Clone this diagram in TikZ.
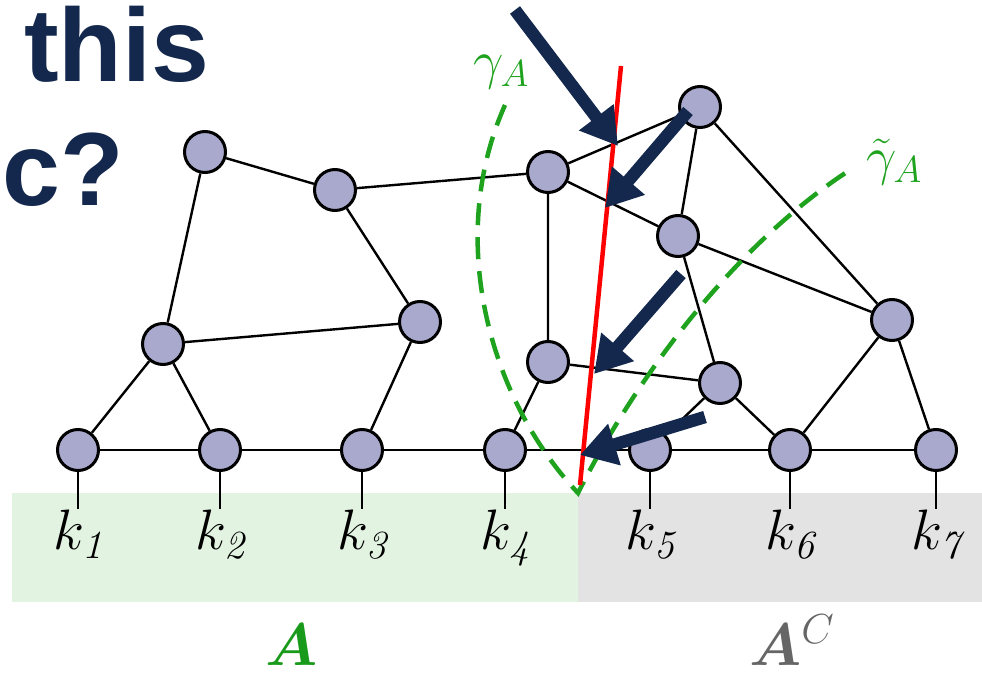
\RequirePackage{fix-cm}
\documentclass[tikz,border=0pt]{standalone}
\usepackage{fontspec}
\usepackage{bm}
\usepackage{tikz}
\usetikzlibrary{positioning,arrows.meta}
\newfontfamily\slidefont{Liberation Sans}
\definecolor{navy}{HTML}{13284C}
\definecolor{vtxfill}{HTML}{A9A9CE}
\definecolor{cutgreen}{HTML}{1FA31F}
\definecolor{labgreen}{HTML}{1A9A1A}
\definecolor{shadegreen}{HTML}{E2F3E2}
\definecolor{shadegray}{HTML}{E3E3E3}

\begin{document}
\begin{tikzpicture}[
      x=1pt, y=-1pt,
      vtx/.style={circle, draw, line width=3pt, fill=vtxfill, minimum size=41pt, inner sep=0pt},
      edge/.style={line width=2.4pt},
      klabel/.style={anchor=north, inner sep=1pt, font=\fontsize{57}{57}\selectfont},
      cutcurve/.style={cutgreen, line width=4.5pt, dash pattern=on 22pt off 12pt},
      pointer/.style={navy, line width=12.5pt, -{Triangle[length=36pt,width=41pt]}},
      cutlabel/.style={anchor=west, inner sep=0pt, text=cutgreen, font=\fontsize{54}{54}\selectfont},
    ]
      \useasboundingbox (0,0) rectangle (982,674);
      % regions A and its complement
      \fill[shadegreen] (12,493) rectangle (578,602);
      \fill[shadegray] (578,493) rectangle (982,602);

      % bottom row
      \foreach \i/\x in {1/78,2/220,3/362,4/505,5/650,6/790,7/936} {
        \node[vtx] (n\i) at (\x,450) {};
        \node[klabel] (k\i) at (\x,509) {$k_{\mathit{\i}}$};
        \draw[line width=2pt] (n\i) -- (k\i.north);
      }
      % upper vertices
      \node[vtx] (t1) at (205,152) {};
      \node[vtx] (t2) at (335,190) {};
      \node[vtx] (a1) at (163,344) {};
      \node[vtx] (a2) at (420,322) {};
      \node[vtx] (m1) at (548,172) {};
      \node[vtx] (m2) at (700,107) {};
      \node[vtx] (m3) at (678,236) {};
      \node[vtx] (m4) at (548,362) {};
      \node[vtx] (m5) at (720,383) {};
      \node[vtx] (m6) at (892,320) {};

      \draw[edge] (n1) -- (n2) -- (n3) -- (n4) -- (n5) -- (n6) -- (n7);
      \draw[edge] (n1) -- (a1) -- (n2);
      \draw[edge] (a1) -- (t1) -- (t2) -- (a2) -- (n3);
      \draw[edge] (a1) -- (a2);
      \draw[edge] (t2) -- (m1) -- (m2) -- (m3) -- (m1) -- (m4) -- (n4);
      \draw[edge] (m2) -- (m6) -- (m3) -- (m5) -- (m4);
      \draw[edge] (m5) -- (n5);
      \draw[edge] (m5) -- (n6) -- (m6) -- (n7);

      % cuts
      \draw[cutcurve] (505,105) .. controls (445,240) and (490,400) .. (578,493)
        .. controls (640,370) and (740,240) .. (853,168);
      \node[cutlabel] (gA) at (473,72) {$\gamma_A$};
      \node[cutlabel] (gtA) at (866,162) {$\tilde{\gamma}_A$};

      \coordinate (rtop) at (621,66);
      \coordinate (rbot) at (580,485);
      \draw[red, line width=4.5pt] (rtop) -- (rbot);

      % pointers onto the red line
      \coordinate (p1s) at (515,10);   \coordinate (p1e) at (618,146);
      \coordinate (p2s) at (688,111);  \coordinate (p2e) at (605,208);
      \coordinate (p3s) at (681,274);  \coordinate (p3e) at (594,374);
      \coordinate (p4s) at (705,417);  \coordinate (p4e) at (580,455);
      \draw[pointer] (p1s) -- (p1e);
      \draw[pointer] (p2s) -- (p2e);
      \draw[pointer] (p3s) -- (p3e);
      \draw[pointer] (p4s) -- (p4e);

      \node[anchor=base, inner sep=0pt, text=labgreen, font=\fontsize{60}{60}\selectfont] (lA) at (292,665) {$\bm{A}$};
      \node[anchor=base west, inner sep=0pt, text=black!60, font=\fontsize{60}{60}\selectfont] (lAc) at (749,665) {$\bm{A}^{C}$};

      \node[anchor=base west, inner sep=0pt, text=navy, font=\slidefont\bfseries\fontsize{104}{104}\selectfont] (w1) at (24,82) {this};
      \node[anchor=base west, inner sep=0pt, text=navy, font=\slidefont\bfseries\fontsize{104}{104}\selectfont] (w2) at (2,205) {c?};
    \end{tikzpicture}
\end{document}
